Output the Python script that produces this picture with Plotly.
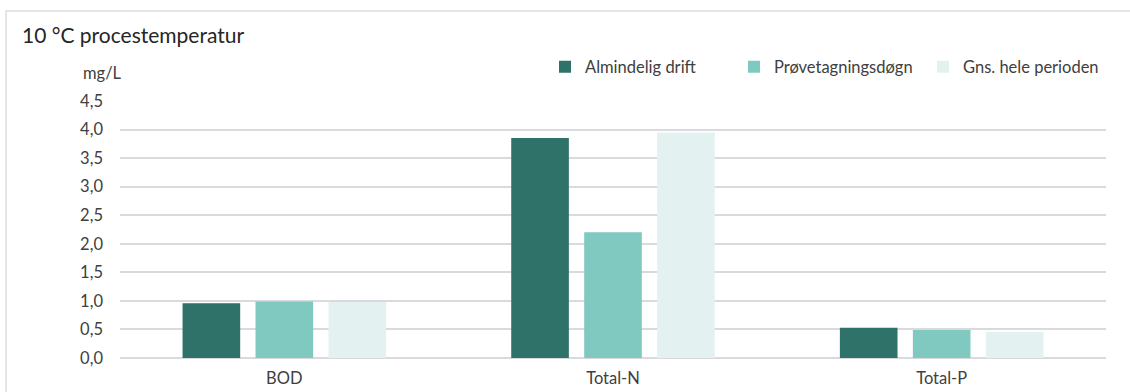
import plotly.graph_objects as go

categories = ["BOD", "Total-N", "Total-P"]
series_names = ["Almindelig drift", "Prøvetagningsdøgn", "Gns. hele perioden"]
almindelig = [0.96, 3.85, 0.53]
proevetagning = [0.99, 2.20, 0.49]
gns_periode = [0.98, 3.95, 0.46]
colors = ["#2E7269", "#80C9C0", "#E3F2F1"]
y_ticks = [0, 0.5, 1.0, 1.5, 2.0, 2.5, 3.0, 3.5, 4.0, 4.5]
y_ticklabels = ["0,0", "0,5", "1,0", "1,5", "2,0", "2,5", "3,0", "3,5", "4,0", "4,5"]

FONT = "Lato, 'Open Sans', sans-serif"
TXT = "#404040"
FS = 16.5

fig = go.Figure()
for name, vals, col in zip(series_names, [almindelig, proevetagning, gns_periode], colors):
    fig.add_trace(go.Bar(x=categories, y=vals, name=name, marker=dict(color=col, line=dict(width=0))))

W, H = 1130, 392
L, R, T, B = 120, 24, 101, 34
pw, ph = W - L - R, H - T - B

def px2paper_x(px):
    return (px - L) / pw

def px2paper_y(py):
    return (H - B - py) / ph

fig.update_layout(
    width=W, height=H,
    margin=dict(l=L, r=R, t=T, b=B, autoexpand=False),
    paper_bgcolor="white", plot_bgcolor="white",
    font=dict(family=FONT, color=TXT, size=FS),
    barmode="group", bargap=0.334, bargroupgap=0.21,
    title=dict(text="10 °C procestemperatur", x=22 / W, xanchor="left",
               y=1 - 36 / H, yanchor="middle", font=dict(size=21, color="#262626", family=FONT)),
    showlegend=True,
    legend=dict(orientation="h", x=px2paper_x(1112), xanchor="right", y=px2paper_y(67), yanchor="middle",
                font=dict(size=FS, color=TXT, family=FONT), itemwidth=30,
                entrywidth=144, entrywidthmode="pixels",
                bgcolor="rgba(0,0,0,0)", traceorder="normal"),
    xaxis=dict(showgrid=False, showline=False, ticks="", ticklabelstandoff=8, automargin=False,
               tickfont=dict(size=FS, color=TXT)),
    yaxis=dict(range=[0, 4.5], tickvals=y_ticks, ticktext=y_ticklabels, showgrid=True,
               gridcolor="#D9D9DE", gridwidth=1.5, zeroline=True, zerolinecolor="#D9D9DE",
               zerolinewidth=1.5, showline=False, ticks="", ticklabelstandoff=16, automargin=False,
               tickfont=dict(size=FS, color=TXT)),
    shapes=[dict(type="rect", xref="paper", yref="paper",
                 x0=px2paper_x(6), x1=px2paper_x(1140), y0=px2paper_y(400), y1=px2paper_y(11),
                 line=dict(color="#DCDCE2", width=1.5), fillcolor="rgba(0,0,0,0)", layer="below")],
    annotations=[dict(text="mg/L", xref="paper", yref="paper", x=px2paper_x(81), y=px2paper_y(73),
                      xanchor="left", yanchor="middle", showarrow=False,
                      font=dict(size=FS, color=TXT, family=FONT))],
)

fig.write_html("out.html")
